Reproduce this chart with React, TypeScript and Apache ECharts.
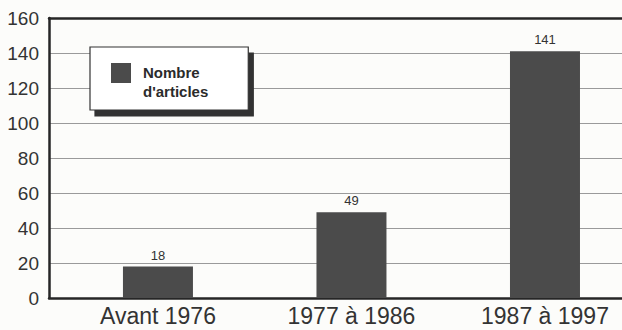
import React, { useEffect, useRef } from "react";
import * as echarts from "echarts";

// Articles published per period
const categories = ["Avant 1976", "1977 à 1986", "1987 à 1997"];
const articleCounts = [18, 49, 141];
const seriesName = "Nombre d'articles";
const yTicks = [0, 20, 40, 60, 80, 100, 120, 140, 160];

const FONT = "'Liberation Sans', Arial, Helvetica, sans-serif";

export default function App() {
  const ref = useRef<HTMLDivElement>(null);

  useEffect(() => {
    if (!ref.current) return;
    const chart = echarts.init(ref.current, undefined, { renderer: "svg" });

    const positions = categories.map((_, i) => i);
    const xRange = { min: -0.563, max: 2.398 };

    chart.setOption({
      animation: false,
      backgroundColor: "#fcfcfa",
      grid: { left: 49, right: 0, top: 18, bottom: 32, containLabel: false },
      legend: {
        show: true,
        selectedMode: false,
        left: 90,
        top: 47,
        orient: "vertical",
        padding: [16, 40, 9, 21],
        backgroundColor: "#ffffff",
        borderColor: "#333333",
        borderWidth: 1.2,
        shadowColor: "#333333",
        shadowBlur: 0,
        shadowOffsetX: 5,
        shadowOffsetY: 6,
        itemWidth: 20,
        itemHeight: 38,
        icon: "path://M0,0H20V20H0Z M0,38L0.01,38",
        formatter: () => "Nombre\nd'articles",
        textStyle: {
          fontFamily: FONT,
          fontWeight: "bold",
          fontSize: 15,
          lineHeight: 19,
          color: "#2b2b2b",
          padding: [0, 0, 0, 7],
        },
        data: [{ name: seriesName, itemStyle: { borderWidth: 0 } }],
      },
      xAxis: [
        {
          type: "value",
          position: "bottom",
          min: xRange.min,
          max: xRange.max,
          splitLine: { show: false },
          axisTick: { show: false },
          axisLine: { show: true, onZero: false, lineStyle: { color: "#262626", width: 2.5 } },
          axisLabel: {
            show: true,
            customValues: positions,
            formatter: (v: number) => categories[Math.round(v)] ?? "",
            fontFamily: FONT,
            fontSize: 23,
            color: "#333333",
            margin: 6,
          },
        },
        {
          type: "value",
          position: "top",
          min: xRange.min,
          max: xRange.max,
          splitLine: { show: false },
          axisTick: { show: false },
          axisLabel: { show: false },
          axisLine: { show: true, onZero: false, lineStyle: { color: "#262626", width: 2.5 } },
        },
      ],
      yAxis: {
        type: "value",
        min: yTicks[0],
        max: yTicks[yTicks.length - 1],
        interval: 20,
        axisLine: { show: true, onZero: false, lineStyle: { color: "#262626", width: 2.5 } },
        axisTick: { show: false },
        splitLine: { show: true, lineStyle: { color: "#9a9a9a", width: 1 } },
        axisLabel: {
          fontFamily: FONT,
          fontSize: 19,
          color: "#333333",
          margin: 10,
        },
      },
      series: [
        {
          name: seriesName,
          type: "bar",
          xAxisIndex: 0,
          barWidth: 70,
          itemStyle: { color: "#4b4b4b" },
          label: {
            show: true,
            position: "top",
            distance: 5,
            fontFamily: FONT,
            fontSize: 13,
            color: "#333333",
          },
          data: articleCounts.map((v, i) => [positions[i], v]),
        },
      ],
    });

    return () => chart.dispose();
  }, []);

  return (
    <div
      ref={ref}
      style={{ position: "absolute", left: 0, top: 0, width: 622, height: 330 }}
    />
  );
}
